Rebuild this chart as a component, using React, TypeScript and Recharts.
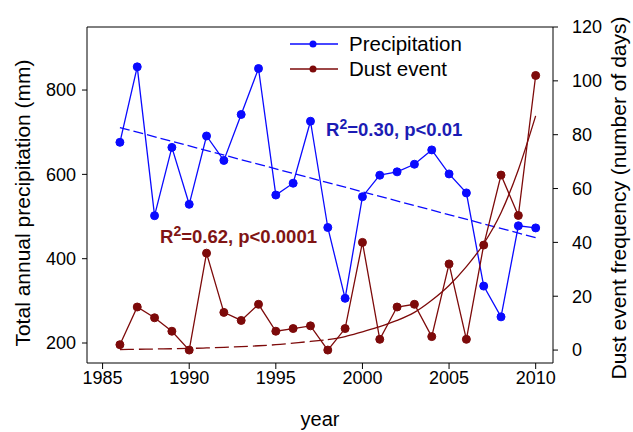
import React from 'react';
import {
  ComposedChart,
  Line,
  XAxis,
  YAxis,
  ReferenceLine,
  Label,
} from 'recharts';

const years = [
  1986, 1987, 1988, 1989, 1990, 1991, 1992, 1993, 1994, 1995, 1996, 1997, 1998,
  1999, 2000, 2001, 2002, 2003, 2004, 2005, 2006, 2007, 2008, 2009, 2010,
];
const precipitation = [
  676, 855, 502, 664, 529, 691, 633, 742, 851, 551, 579, 726, 474, 306, 547, 598,
  606, 624, 658, 601, 556, 335, 262, 478, 473,
];
const dustEvents = [
  2, 16, 12, 7, 0, 36, 14, 11, 17, 7, 8, 9, 0, 8, 40, 4, 16, 17, 5, 32, 4, 39, 65,
  50, 102,
];
// exponential fit
const dustTrend = [
  0.2, 0.3, 0.4, 0.5, 0.6, 0.8, 1.0, 1.3, 1.6, 2.0, 2.6, 3.2, 3.9, 5.0, 6.8, 8.7,
  11, 14, 18.5, 24, 31, 39.5, 51, 67, 87,
];
// the fitted curve is dashed where it is flat, solid after this year
const dustTrendSolidFrom = 1998;
// linear fit end points
const precipTrendYears = [1986, 2010];
const precipTrendValues = [711, 450];

const xTicks = [1985, 1990, 1995, 2000, 2005, 2010];
const leftTicks = [200, 400, 600, 800];
const leftMinorTicks = [
  160, 200, 240, 280, 320, 360, 400, 440, 480, 520, 560, 600, 640, 680, 720, 760,
  800, 840, 880, 920,
];
const rightTicks = [0, 20, 40, 60, 80, 100, 120];

const seriesNames = ['Precipitation', 'Dust event'];
const fitLabels = ['0.30, p<0.01', '0.62, p<0.0001'];

const BLUE = '#0a0aff';
const BROWN = '#7d0a0a';
const FONT = '"Liberation Sans", Arial, sans-serif';

const data = years.map((year, i) => ({
  year,
  precipitation: precipitation[i],
  dust: dustEvents[i],
  dustTrendDashed: year <= dustTrendSolidFrom ? dustTrend[i] : null,
  dustTrendSolid: year >= dustTrendSolidFrom ? dustTrend[i] : null,
}));

const tickStyle = { fontSize: 18, fill: '#000', fontFamily: FONT };

// rotated axis title, centred on the axis box
const RotatedTitle = (text: string, fromLeft: number, shiftY: number) => (props: any) => {
  const vb = props.viewBox || {};
  const cx = vb.x + fromLeft;
  const cy = vb.y + vb.height / 2 + shiftY;
  return (
    <text
      x={cx}
      y={cy}
      transform={`rotate(-90, ${cx}, ${cy})`}
      textAnchor="middle"
      dominantBaseline="central"
      fontSize={21}
      fontFamily={FONT}
      fill="#000"
    >
      {text}
    </text>
  );
};

const App: React.FC = () => {
  const legendColors = [BLUE, BROWN];
  return (
    <div style={{ position: 'absolute', left: 0, top: 0, width: 633, height: 432, background: '#fff', fontFamily: FONT }}>
      <ComposedChart width={633} height={432} data={data} margin={{ top: 27, right: 0, bottom: 0, left: 0 }}>
        <XAxis
          dataKey="year"
          type="number"
          domain={[1984.1, 2011]}
          ticks={xTicks}
          height={69}
          tickSize={6}
          tickMargin={2}
          stroke="#000"
          tick={tickStyle}
          allowDataOverflow
        >
          <Label value="year" position="insideBottom" offset={6} style={{ fontSize: 20, fill: '#000', fontFamily: FONT }} />
        </XAxis>
        <YAxis
          yAxisId="left"
          domain={[152.6, 949.5]}
          ticks={leftTicks}
          width={87}
          tickSize={5}
          tickMargin={6}
          stroke="#000"
          tick={tickStyle}
          allowDataOverflow
        >
          <Label content={RotatedTitle('Total annual precipitation (mm)', 22, 8)} />
        </YAxis>
        <YAxis
          yAxisId="minor"
          orientation="left"
          mirror
          width={0}
          domain={[152.6, 949.5]}
          ticks={leftMinorTicks}
          tickSize={3}
          axisLine={false}
          tickLine={{ stroke: BLUE }}
          tickFormatter={() => ''}
          allowDataOverflow
        />
        <YAxis
          yAxisId="right"
          orientation="right"
          domain={[-4.8, 120]}
          ticks={rightTicks}
          width={80}
          tickSize={5}
          tickMargin={14}
          stroke="#000"
          tick={tickStyle}
          allowDataOverflow
        >
          <Label content={RotatedTitle('Dust event frequency (number of days)', 65, 3)} />
        </YAxis>
        <ReferenceLine yAxisId="right" y={120} stroke="#000" />
        <ReferenceLine
          yAxisId="left"
          segment={[
            { x: precipTrendYears[0], y: precipTrendValues[0] },
            { x: precipTrendYears[1], y: precipTrendValues[1] },
          ]}
          stroke={BLUE}
          strokeWidth={1.3}
          strokeDasharray="10 4"
        />
        <Line
          yAxisId="left"
          dataKey="precipitation"
          stroke={BLUE}
          strokeWidth={1.3}
          dot={{ r: 4, fill: BLUE, stroke: BLUE, strokeWidth: 1 }}
          activeDot={false}
          isAnimationActive={false}
        />
        <Line
          yAxisId="right"
          dataKey="dustTrendDashed"
          type="monotone"
          stroke={BROWN}
          strokeWidth={1.3}
          strokeDasharray="14 5"
          dot={false}
          activeDot={false}
          isAnimationActive={false}
        />
        <Line
          yAxisId="right"
          dataKey="dustTrendSolid"
          type="monotone"
          stroke={BROWN}
          strokeWidth={1.3}
          dot={false}
          activeDot={false}
          isAnimationActive={false}
        />
        <Line
          yAxisId="right"
          dataKey="dust"
          stroke={BROWN}
          strokeWidth={1.3}
          dot={{ r: 4, fill: BROWN, stroke: BROWN, strokeWidth: 1 }}
          activeDot={false}
          isAnimationActive={false}
        />
      </ComposedChart>

      {/* legend */}
      <div style={{ position: 'absolute', left: 290, top: 31 }}>
        {seriesNames.map((name, i) => (
          <div key={name} style={{ display: 'flex', alignItems: 'center', height: 25 }}>
            <svg width={48} height={10} style={{ marginRight: 11 }}>
              <line x1={0} y1={5} x2={48} y2={5} stroke={legendColors[i]} strokeWidth={1.3} />
              <circle cx={23} cy={5} r={3.5} fill={legendColors[i]} />
            </svg>
            <span style={{ fontSize: 20.5, color: '#000', lineHeight: '25px' }}>{name}</span>
          </div>
        ))}
      </div>

      {/* fit statistics */}
      <div style={{ position: 'absolute', left: 326, top: 117, fontSize: 18.5, fontWeight: 'bold', color: '#1c1cb4', lineHeight: '26px', whiteSpace: 'nowrap' }}>
        R<sup style={{ fontSize: 14, lineHeight: 0 }}>2</sup>={fitLabels[0]}
      </div>
      <div style={{ position: 'absolute', left: 160, top: 224, fontSize: 18.5, fontWeight: 'bold', color: '#801414', lineHeight: '26px', whiteSpace: 'nowrap' }}>
        R<sup style={{ fontSize: 14, lineHeight: 0 }}>2</sup>={fitLabels[1]}
      </div>
    </div>
  );
};

export default App;
